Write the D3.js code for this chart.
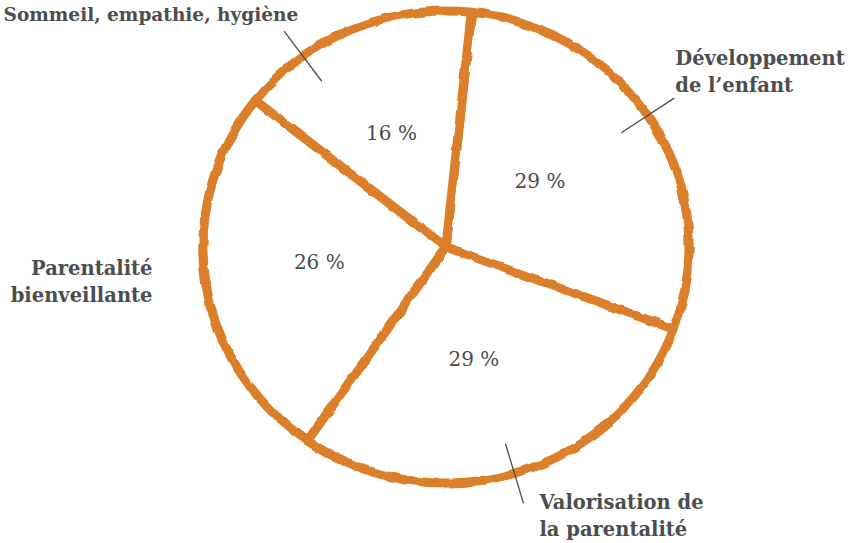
<!DOCTYPE html>
<html>
<head>
<meta charset="utf-8">
<script src="https://d3js.org/d3.v7.min.js"></script>
<style>
body { margin: 0; background: white; }
svg { display: block; }
</style>
</head>
<body>
<svg id="chart" width="853" height="543"></svg>
<script>
// data
var themes = ["Développement de l\u2019enfant", "Valorisation de la parentalité", "Parentalité bienveillante", "Sommeil, empathie, hygiène"];
var shares = [29, 29, 26, 16];
var labelLines = [["Développement", "de l\u2019enfant"], ["Valorisation de", "la parentalité"], ["Parentalité", "bienveillante"], ["Sommeil, empathie, hygiène"]];

var width = 853, height = 543;
var cx = 446, cy = 247, radius = 236, sx = 1.03;
var orange = "#dc7f2b", ink = "#4d4d4d";

var svg = d3.select("#chart");

// rough hand-drawn look
var defs = svg.append("defs");
var f = defs.append("filter").attr("id", "rough")
  .attr("x", "-10%").attr("y", "-10%").attr("width", "120%").attr("height", "120%");
f.append("feTurbulence").attr("type", "fractalNoise").attr("baseFrequency", 0.06)
  .attr("numOctaves", 2).attr("seed", 3).attr("result", "noise");
f.append("feDisplacementMap").attr("in", "SourceGraphic").attr("in2", "noise")
  .attr("scale", 4).attr("xChannelSelector", "R").attr("yChannelSelector", "G");

var pie = d3.pie().sort(null).value(function(d) { return d; })
  .startAngle(6 * Math.PI / 180).endAngle(6 * Math.PI / 180 + 2 * Math.PI);
var arcs = pie(shares);
var arc = d3.arc().innerRadius(0).outerRadius(radius);

var g = svg.append("g").attr("transform", "translate(" + cx + "," + cy + ")");

g.append("g").attr("filter", "url(#rough)")
  .attr("transform", "scale(" + sx + ",1)")
  .selectAll("path").data(arcs).enter().append("path")
  .attr("d", arc)
  .attr("fill", "white")
  .attr("stroke", orange)
  .attr("stroke-width", 9)
  .attr("stroke-linejoin", "round");

// percentages
var inner = d3.arc().innerRadius(120).outerRadius(120);
g.selectAll("text.pct").data(arcs).enter().append("text")
  .attr("class", "pct")
  .attr("transform", function(d) { var c = inner.centroid(d); return "translate(" + (c[0] - 8) + "," + (c[1] - 3) + ")"; })
  .attr("text-anchor", "middle")
  .attr("dy", "0.35em")
  .style("font-family", "'DejaVu Serif', serif")
  .style("font-size", "20px")
  .style("fill", ink)
  .text(function(d) { return d.value + " %"; });

// outer labels: where the leader crosses the rim (fraction of slice) and text offset
var layout = [
  { frac: 0.48, tick: true,  anchor: "start", dx: 1,  dy: -33, size: 19.5 },
  { frac: 0.51, tick: true,  anchor: "start", dx: 16, dy: 6,   size: 19.5 },
  { frac: 0.5,  tick: false, anchor: "end",   dx: 2,  dy: -14, size: 19.5 },
  { frac: 0.27, tick: true,  anchor: "end",   dx: 14, dy: -10, size: 18.5 }
];

function polar(a, r) { return [Math.sin(a) * r * sx, -Math.cos(a) * r]; }

arcs.forEach(function(d, i) {
  var L = layout[i];
  var a = d.startAngle + (d.endAngle - d.startAngle) * L.frac;
  var p0 = polar(a, 205), p1 = polar(a, 267);
  var anchorPt = p1;
  if (L.tick) {
    g.append("line")
      .attr("x1", p0[0]).attr("y1", p0[1])
      .attr("x2", p1[0]).attr("y2", p1[1])
      .attr("stroke", ink).attr("stroke-width", 1.3);
  } else {
    anchorPt = polar(a, 290);
  }
  var t = g.append("text")
    .attr("x", anchorPt[0] + L.dx)
    .attr("y", anchorPt[1] + L.dy)
    .attr("text-anchor", L.anchor)
    .style("font-family", "'DejaVu Serif', serif")
    .style("font-weight", "bold")
    .style("font-size", L.size + "px")
    .style("fill", ink);
  labelLines[i].forEach(function(line, j) {
    t.append("tspan").attr("x", anchorPt[0] + L.dx).attr("dy", j ? 27 : 0).text(line);
  });
});
</script>
</body>
</html>
